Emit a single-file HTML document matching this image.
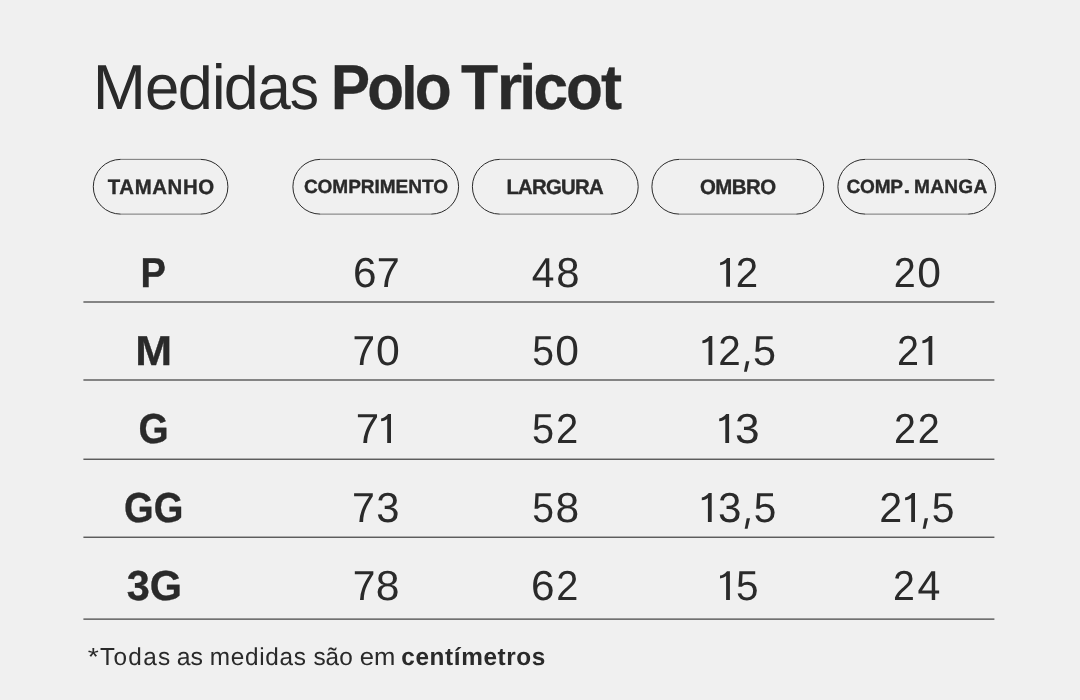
<!DOCTYPE html>
<html lang="pt-BR">
<head>
<meta charset="utf-8">
<title>Medidas Polo Tricot</title>
<style>
  html, body { margin: 0; padding: 0; }
  body {
    width: 1080px; height: 700px; overflow: hidden;
    background: #f0f0f0;
    font-family: "Liberation Sans", sans-serif;
    color: #2a2a2a;
    position: relative;
  }
  #txt { position: absolute; left: 0; top: 0; width: 1080px; height: 700px; will-change: transform; }
  .t { position: absolute; left: 0; top: 0; white-space: nowrap; line-height: 1; transform-origin: 0 0; text-rendering: geometricPrecision; }
  .b { font-weight: bold; }
  .o { color: transparent; }
  #shapes { position: absolute; left: 0; top: 0; }
</style>
</head>
<body>
<svg id="shapes" width="1080" height="700" viewBox="0 0 1080 700">
  <g fill="none" stroke="#2a2a2a">
    <path stroke-width="1" d="M120.675 159.36A27.375 27.375 0 0 0 120.675 214.11M200.525 159.36A27.375 27.375 0 0 1 200.525 214.11 M320.275 159.36A27.375 27.375 0 0 0 320.275 214.11M431.225 159.36A27.375 27.375 0 0 1 431.225 214.11 M499.775 159.36A27.375 27.375 0 0 0 499.775 214.11M610.825 159.36A27.375 27.375 0 0 1 610.825 214.11 M679.275 159.36A27.375 27.375 0 0 0 679.275 214.11M796.325 159.36A27.375 27.375 0 0 1 796.325 214.11 M865.275 159.36A27.375 27.375 0 0 0 865.275 214.11M968.175 159.36A27.375 27.375 0 0 1 968.175 214.11"/>
    <path stroke-width="0.62" d="M120.675 159.36H200.525M120.675 214.11H200.525 M320.275 159.36H431.225M320.275 214.11H431.225 M499.775 159.36H610.825M499.775 214.11H610.825 M679.275 159.36H796.325M679.275 214.11H796.325 M865.275 159.36H968.175M865.275 214.11H968.175"/>
  </g>
  <g fill="#2a2a2a">
    <rect x="83.4" y="301.460" width="911" height="1.08"/>
    <rect x="83.4" y="379.460" width="911" height="1.08"/>
    <rect x="83.4" y="458.660" width="911" height="1.08"/>
    <rect x="83.4" y="536.660" width="911" height="1.08"/>
    <rect x="83.4" y="618.560" width="911" height="1.08"/>
  </g>
  <g fill="#2a2a2a">
    <path transform="translate(726.20 258.00)" d="M0.9 0H3.8V28.8H0V4.8C-1.2 5.8-3.2 6.8-6.1 7.2V4.4C-3.5 4-1.2 2.6 0.9 0Z"/>
    <path transform="translate(708.50 336.10)" d="M0.9 0H3.8V28.8H0V4.8C-1.2 5.8-3.2 6.8-6.1 7.2V4.4C-3.5 4-1.2 2.6 0.9 0Z"/>
    <path transform="translate(744.00 364.90)" d="M2 -3.7H5.35L2.85 6.9H0Z"/>
    <path transform="translate(928.50 336.10)" d="M0.9 0H3.8V28.8H0V4.8C-1.2 5.8-3.2 6.8-6.1 7.2V4.4C-3.5 4-1.2 2.6 0.9 0Z"/>
    <path transform="translate(387.20 414.10)" d="M0.9 0H3.8V28.8H0V4.8C-1.2 5.8-3.2 6.8-6.1 7.2V4.4C-3.5 4-1.2 2.6 0.9 0Z"/>
    <path transform="translate(725.30 414.10)" d="M0.9 0H3.8V28.8H0V4.8C-1.2 5.8-3.2 6.8-6.1 7.2V4.4C-3.5 4-1.2 2.6 0.9 0Z"/>
    <path transform="translate(707.90 493.10)" d="M0.9 0H3.8V28.8H0V4.8C-1.2 5.8-3.2 6.8-6.1 7.2V4.4C-3.5 4-1.2 2.6 0.9 0Z"/>
    <path transform="translate(744.70 521.90)" d="M2 -3.7H5.35L2.85 6.9H0Z"/>
    <path transform="translate(911.20 493.10)" d="M0.9 0H3.8V28.8H0V4.8C-1.2 5.8-3.2 6.8-6.1 7.2V4.4C-3.5 4-1.2 2.6 0.9 0Z"/>
    <path transform="translate(922.70 521.90)" d="M2 -3.7H5.35L2.85 6.9H0Z"/>
    <path transform="translate(726.10 571.20)" d="M0.9 0H3.8V28.8H0V4.8C-1.2 5.8-3.2 6.8-6.1 7.2V4.4C-3.5 4-1.2 2.6 0.9 0Z"/>
  </g>
</svg>
<div id="txt">

<span id="t00" class="t" style="font-size:61px;transform:translate(92.63px,55.89px) scale(1.0482,1.0413)">M</span>
<span id="t01" class="t" style="font-size:61px;transform:translate(145.11px,55.89px) scale(1.0113,1.0413)">e</span>
<span id="t02" class="t" style="font-size:61px;transform:translate(177.69px,55.89px) scale(1.0346,1.0413);clip-path:inset(8.97px -9px -30px -9px)">d</span>
<span id="t03" class="t" style="font-size:61px;transform:translate(211.89px,55.89px) scale(1.0000,1.0413)">i</span>
<span id="t04" class="t" style="font-size:61px;transform:translate(223.80px,55.89px) scale(1.0282,1.0413);clip-path:inset(8.97px -9px -30px -9px)">d</span>
<span id="t05" class="t" style="font-size:61px;transform:translate(257.59px,55.89px) scale(0.9800,1.0413)">a</span>
<span id="t06" class="t" style="font-size:61px;transform:translate(289.82px,55.89px) scale(0.9589,1.0413)">s</span>
<span id="t07" class="t b" style="font-size:61px;transform:translate(331.05px,55.89px) scale(0.9587,1.0413);-webkit-text-stroke:0.3px #2a2a2a">P</span>
<span id="t08" class="t b" style="font-size:61px;transform:translate(367.37px,55.89px) scale(0.9875,1.0413);-webkit-text-stroke:0.3px #2a2a2a">o</span>
<span id="t09" class="t b" style="font-size:61px;transform:translate(401.13px,55.89px) scale(0.9570,1.0413);-webkit-text-stroke:0.3px #2a2a2a;clip-path:inset(8.85px -9px -30px -9px)">l</span>
<span id="t10" class="t b" style="font-size:61px;transform:translate(414.70px,55.89px) scale(0.9907,1.0413);-webkit-text-stroke:0.3px #2a2a2a">o</span>
<span id="t11" class="t b" style="font-size:61px;transform:translate(461.12px,55.89px) scale(0.9966,1.0413);-webkit-text-stroke:0.3px #2a2a2a">T</span>
<span id="t12" class="t b" style="font-size:61px;transform:translate(496.87px,55.89px) scale(1.0709,1.0413);-webkit-text-stroke:0.3px #2a2a2a">r</span>
<span id="t13" class="t b" style="font-size:61px;transform:translate(519.36px,55.89px) scale(1.0000,1.0413);-webkit-text-stroke:0.3px #2a2a2a">i</span>
<span id="t14" class="t b" style="font-size:61px;transform:translate(533.43px,55.89px) scale(1.0208,1.0413);-webkit-text-stroke:0.3px #2a2a2a">c</span>
<span id="t15" class="t b" style="font-size:61px;transform:translate(566.11px,55.89px) scale(0.9888,1.0413);-webkit-text-stroke:0.3px #2a2a2a">o</span>
<span id="t16" class="t b" style="font-size:61px;transform:translate(600.98px,55.89px) scale(1.0377,1.0413);-webkit-text-stroke:0.3px #2a2a2a">t</span>
<span id="h0" class="t b" style="font-size:20px;letter-spacing:0.58px;transform:translate(107.80px,177.00px) scale(1.0200,1.0465);-webkit-text-stroke:0.35px #2a2a2a">TAMANHO</span>
<span id="h1" class="t b" style="font-size:18px;letter-spacing:-0.07px;transform:translate(303.88px,176.74px) scale(1.0600,1.0659);-webkit-text-stroke:0.35px #2a2a2a">COMPRIMENTO</span>
<span id="h2" class="t b" style="font-size:20px;letter-spacing:-0.77px;transform:translate(506.44px,177.00px) scale(1.0200,1.0465);-webkit-text-stroke:0.35px #2a2a2a">LARGURA</span>
<span id="h3" class="t b" style="font-size:20px;letter-spacing:-0.52px;transform:translate(700.01px,177.00px) scale(1.0200,1.0465);-webkit-text-stroke:0.35px #2a2a2a">OMBRO</span>
<span id="h4" class="t b" style="font-size:18px;letter-spacing:-0.17px;transform:translate(846.40px,176.74px) scale(1.0600,1.0659);-webkit-text-stroke:0.35px #2a2a2a">COMP</span>
<span id="h4p" class="t b" style="font-size:18px;transform:translate(903.62px,176.74px) scale(1.3472,1.0659);-webkit-text-stroke:0.35px #2a2a2a">.</span>
<span id="h5" class="t b" style="font-size:18px;letter-spacing:0.26px;transform:translate(914.03px,176.74px) scale(1.0600,1.0659);-webkit-text-stroke:0.35px #2a2a2a">MANGA</span>
<span id="a0" class="t b" style="font-size:40px;transform:translate(140.62px,252.44px) scale(0.9555,1.0465);-webkit-text-stroke:0.3px #2a2a2a">P</span>
<span id="a1w" class="t" style="font-size:40px;transform:translate(353.12px,252.44px) scale(1.0582,1.0465)">6</span>
<span id="a1x" class="t" style="font-size:40px;transform:translate(376.72px,252.44px) scale(1.0329,1.0465)">7</span>
<span id="a2w" class="t" style="font-size:40px;transform:translate(531.72px,252.44px) scale(1.0188,1.0465)">4</span>
<span id="a2x" class="t" style="font-size:40px;transform:translate(556.32px,252.44px) scale(1.0477,1.0465)">8</span>
<span class="t o" style="font-size:40px;transform:translate(718.2px,252.44px)">1</span>
<span id="a3x" class="t" style="font-size:40px;transform:translate(735.80px,252.44px) scale(1.0055,1.0465)">2</span>
<span id="a4w" class="t" style="font-size:40px;transform:translate(893.63px,252.44px) scale(0.9879,1.0465)">2</span>
<span id="a4x" class="t" style="font-size:40px;transform:translate(917.31px,252.44px) scale(1.0650,1.0465)">0</span>
<span id="b0" class="t b" style="font-size:40px;transform:translate(135.20px,330.24px) scale(1.1052,1.0465);-webkit-text-stroke:0.3px #2a2a2a">M</span>
<span id="b1w" class="t" style="font-size:40px;transform:translate(352.47px,330.24px) scale(1.0126,1.0465)">7</span>
<span id="b1x" class="t" style="font-size:40px;transform:translate(376.06px,330.24px) scale(1.0695,1.0465)">0</span>
<span id="b2w" class="t" style="font-size:40px;transform:translate(532.18px,330.24px) scale(0.9771,1.0465)">5</span>
<span id="b2x" class="t" style="font-size:40px;transform:translate(555.31px,330.24px) scale(1.0650,1.0465)">0</span>
<span class="t o" style="font-size:40px;transform:translate(700.5px,330.24px)">1</span>
<span id="b3x" class="t" style="font-size:40px;transform:translate(718.13px,330.24px) scale(1.0105,1.0465)">2</span>
<span class="t o" style="font-size:40px;transform:translate(741.0px,330.24px)">,</span>
<span id="b3z" class="t" style="font-size:40px;transform:translate(753.09px,330.24px) scale(1.0340,1.0465)">5</span>
<span id="b4w" class="t" style="font-size:40px;transform:translate(897.08px,330.24px) scale(0.9884,1.0465)">2</span>
<span class="t o" style="font-size:40px;transform:translate(920.5px,330.24px)">1</span>
<span id="c0" class="t b" style="font-size:40px;transform:translate(138.51px,408.15px) scale(0.9693,1.0465);-webkit-text-stroke:0.3px #2a2a2a">G</span>
<span id="c1w" class="t" style="font-size:40px;transform:translate(355.81px,408.15px) scale(1.0503,1.0465)">7</span>
<span class="t o" style="font-size:40px;transform:translate(379.2px,408.15px)">1</span>
<span id="c2w" class="t" style="font-size:40px;transform:translate(532.04px,408.15px) scale(0.9935,1.0465)">5</span>
<span id="c2x" class="t" style="font-size:40px;transform:translate(556.09px,408.15px) scale(0.9998,1.0465)">2</span>
<span class="t o" style="font-size:40px;transform:translate(717.3px,408.15px)">1</span>
<span id="c3x" class="t" style="font-size:40px;transform:translate(735.04px,408.15px) scale(1.1064,1.0465)">3</span>
<span id="c4w" class="t" style="font-size:40px;transform:translate(894.03px,408.15px) scale(0.9820,1.0465)">2</span>
<span id="c4x" class="t" style="font-size:40px;transform:translate(917.84px,408.15px) scale(0.9879,1.0465)">2</span>
<span id="d0" class="t b" style="font-size:40px;transform:translate(124.11px,487.63px) scale(0.9531,1.0465);-webkit-text-stroke:0.3px #2a2a2a">GG</span>
<span id="d1w" class="t" style="font-size:40px;transform:translate(351.90px,487.63px) scale(1.0277,1.0465)">7</span>
<span id="d1x" class="t" style="font-size:40px;transform:translate(376.14px,487.63px) scale(1.0441,1.0465)">3</span>
<span id="d2w" class="t" style="font-size:40px;transform:translate(532.18px,487.63px) scale(0.9771,1.0465)">5</span>
<span id="d2x" class="t" style="font-size:40px;transform:translate(555.50px,487.63px) scale(1.0644,1.0465)">8</span>
<span class="t o" style="font-size:40px;transform:translate(699.9px,487.63px)">1</span>
<span id="d3x" class="t" style="font-size:40px;transform:translate(717.93px,487.63px) scale(1.0523,1.0465)">3</span>
<span class="t o" style="font-size:40px;transform:translate(741.7px,487.63px)">,</span>
<span id="d3z" class="t" style="font-size:40px;transform:translate(753.80px,487.63px) scale(1.0150,1.0465)">5</span>
<span id="d4w" class="t" style="font-size:40px;transform:translate(879.18px,487.63px) scale(1.0310,1.0465)">2</span>
<span class="t o" style="font-size:40px;transform:translate(903.2px,487.63px)">1</span>
<span class="t o" style="font-size:40px;transform:translate(919.7px,487.63px)">,</span>
<span id="d4z" class="t" style="font-size:40px;transform:translate(931.81px,487.63px) scale(1.0228,1.0465)">5</span>
<span id="e0" class="t b" style="font-size:40px;transform:translate(126.69px,565.48px) scale(1.0373,1.0465);-webkit-text-stroke:0.3px #2a2a2a">3G</span>
<span id="e1w" class="t" style="font-size:40px;transform:translate(352.70px,565.48px) scale(1.0180,1.0465)">7</span>
<span id="e1x" class="t" style="font-size:40px;transform:translate(375.74px,565.48px) scale(1.0674,1.0465)">8</span>
<span id="e2w" class="t" style="font-size:40px;transform:translate(531.12px,565.48px) scale(1.0582,1.0465)">6</span>
<span id="e2x" class="t" style="font-size:40px;transform:translate(556.31px,565.48px) scale(0.9934,1.0465)">2</span>
<span class="t o" style="font-size:40px;transform:translate(718.1px,565.48px)">1</span>
<span id="e3x" class="t" style="font-size:40px;transform:translate(736.04px,565.48px) scale(1.0129,1.0465)">5</span>
<span id="e4w" class="t" style="font-size:40px;transform:translate(893.03px,565.48px) scale(0.9820,1.0465)">2</span>
<span id="e4x" class="t" style="font-size:40px;transform:translate(917.39px,565.48px) scale(1.0272,1.0465)">4</span>
<span id="f0" class="t" style="font-size:23px;transform:translate(87.80px,644.99px) scale(1.2355,1.0680)">*</span>
<span id="f1" class="t" style="font-size:23px;letter-spacing:1.25px;transform:translate(99.90px,644.99px) scale(1.0600,1.0680)">Todas</span>
<span id="f2" class="t" style="font-size:23px;transform:translate(176.66px,644.99px) scale(1.0796,1.0680)">as</span>
<span id="f3" class="t" style="font-size:23px;letter-spacing:0.65px;transform:translate(209.77px,644.99px) scale(1.0600,1.0680)">medidas</span>
<span id="f4" class="t" style="font-size:23px;letter-spacing:-0.01px;transform:translate(313.43px,644.99px) scale(1.0600,1.0680)">são</span>
<span id="f5" class="t" style="font-size:23px;transform:translate(359.80px,644.99px) scale(1.1145,1.0680)">em</span>
<span id="f6" class="t b" style="font-size:23px;letter-spacing:0.55px;transform:translate(401.34px,644.99px) scale(1.0600,1.0680)">centímetros</span>
</div>
</body>
</html>
